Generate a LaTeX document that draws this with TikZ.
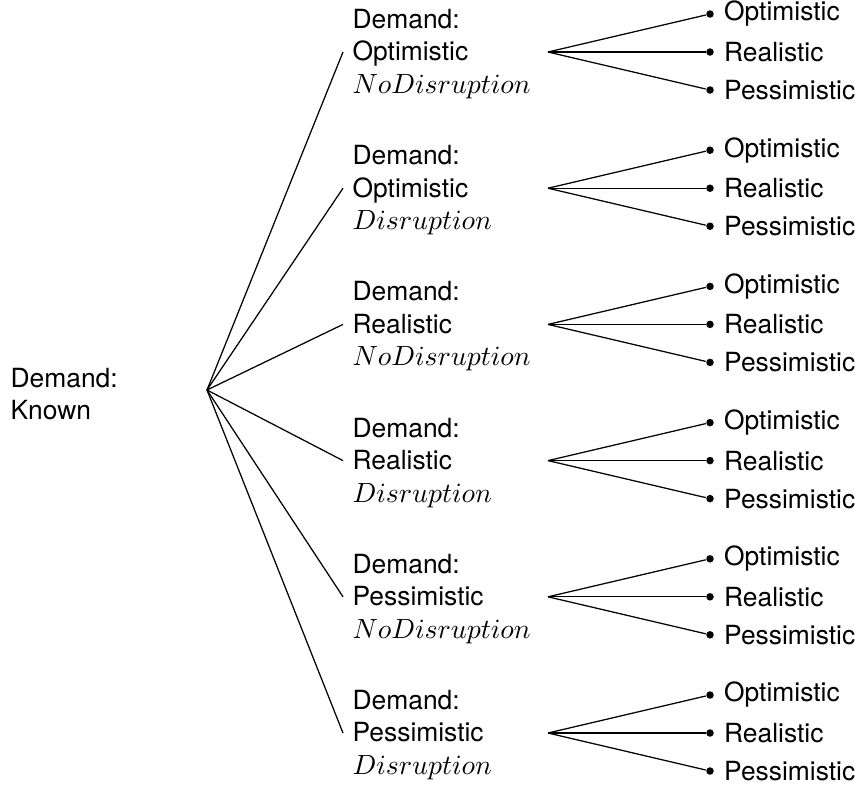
\documentclass[tikz,border=0pt]{standalone}
\usepackage{fontspec}
\setmainfont{TeX Gyre Heros}[Scale=0.95]
\begin{document}
\begin{tikzpicture}[x=0.36pt, y=-0.36pt, line width=0.45pt,
  every node/.style={font=\fontsize{10}{11.7}\selectfont},
  rootbox/.style={anchor=west, align=left, inner sep=0pt},
  midbox/.style={anchor=west, align=left, text width=67.3pt, inner xsep=3.24pt, inner ysep=0pt},
  leafdot/.style={circle, fill, inner sep=0pt, minimum size=2.7pt},
  leaftext/.style={anchor=west, inner xsep=3.3pt, inner ysep=0pt}]
\useasboundingbox (0,0) rectangle (858,784);

% root of the tree
\node[rootbox] (root) at (10,394) {Demand:\\Known};
\coordinate (fork) at (207,390);

% second level: demand scenario with disruption state
\foreach \i/\dem/\dis in {0/Optimistic/NoDisruption, 1/Optimistic/Disruption,
                          2/Realistic/NoDisruption, 3/Realistic/Disruption,
                          4/Pessimistic/NoDisruption, 5/Pessimistic/Disruption}{
  \pgfmathsetmacro{\yc}{52+136.2*\i}
  \node[midbox] (m\i) at (343,\yc+2) {Demand:\\\dem\\$\dis$};
  \coordinate (e\i) at (343,\yc);
  \coordinate (f\i) at (548,\yc);
  \draw (fork) -- (e\i);
  % third level: outcomes
  \foreach \j/\lab/\off in {0/Optimistic/-38, 1/Realistic/0, 2/Pessimistic/38}{
    \node[leafdot] (d\i\j) at (710,\yc+\off) {};
    \node[leaftext] (t\i\j) at (d\i\j.east) {\lab};
    \draw (f\i) -- (d\i\j);
  }
}
\end{tikzpicture}
\end{document}
